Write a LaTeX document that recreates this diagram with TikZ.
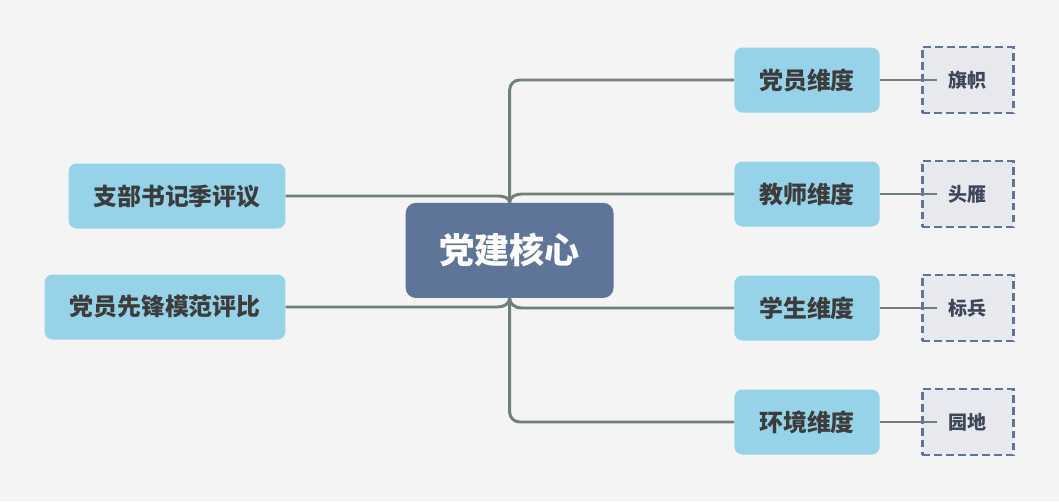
\documentclass[tikz,border=0pt]{standalone}
\usepackage{fontspec}
\setmainfont{Noto Sans CJK SC}
\usetikzlibrary{positioning}

\definecolor{bgcol}{HTML}{F4F4F4}
\definecolor{corecol}{HTML}{5F7499}
\definecolor{dimcol}{HTML}{97D3E8}
\definecolor{txtcol}{HTML}{3C3C3C}
\definecolor{tagfill}{HTML}{E8E9EE}
\definecolor{tagtxt}{HTML}{3D4759}
\definecolor{linecol}{HTML}{6F7F7B}

\begin{document}
\begin{tikzpicture}[
    core/.style={rectangle, rounded corners=0.25cm, fill=corecol, text=white, inner xsep=0.84cm, minimum height=2.375cm, font=\fontsize{25}{30}\selectfont\bfseries},
    dim/.style={rectangle, rounded corners=0.2cm, fill=dimcol, text=txtcol, inner xsep=0.62cm, minimum height=1.625cm, font=\fontsize{17}{20}\selectfont\bfseries},
    tag/.style={rectangle, draw=corecol, line width=2pt, dash pattern=on 5.5pt off 3pt, fill=tagfill, text=tagtxt, minimum width=2.275cm, minimum height=1.65cm, font=\fontsize{13.5}{16}\selectfont\bfseries},
    link/.style={draw=linecol, line width=2.1pt, rounded corners=0.25cm}
]
    \fill[bgcol] (0,0) rectangle (26.475,-12.525);
    \useasboundingbox (0,0) rectangle (26.475,-12.525);

    \node[core] (core) at (12.74,-6.26) {党建核心};

    \node[dim] (zbsj) at (4.425,-4.9) {支部书记季评议};
    \node[dim] (xfmf) at (4.125,-7.675) {党员先锋模范评比};

    \node[dim, minimum width=3.6cm] (dywd) at (20.175,-2.0) {党员维度};
    \node[dim, minimum width=3.6cm] (jswd) at (20.175,-4.85) {教师维度};
    \node[dim, minimum width=3.6cm] (xswd) at (20.175,-7.7) {学生维度};
    \node[dim, minimum width=3.6cm] (hjwd) at (20.175,-10.55) {环境维度};

    \node[tag] (qizhi) at (24.19,-2.0) {旗帜};
    \node[tag] (touyan) at (24.19,-4.85) {头雁};
    \node[tag] (biaobing) at (24.19,-7.7) {标兵};
    \node[tag] (yuandi) at (24.19,-10.55) {园地};

    % branches above the core
    \draw[link] (core.north) |- (dywd.west);
    \draw[link, rounded corners=0pt] (core.north) to[out=90, in=180] ([xshift=0.3cm]core.north |- jswd.west) -- (jswd.west);
    \draw[link, rounded corners=0pt] (zbsj.east) -- ([xshift=-0.3cm]core.north |- zbsj.east) to[out=0, in=90] (core.north);

    % branches below the core
    \draw[link, rounded corners=0pt] (core.south) to[out=-90, in=180] ([xshift=0.3cm]core.south |- xswd.west) -- (xswd.west);
    \draw[link, rounded corners=0pt] (xfmf.east) -- ([xshift=-0.3cm]core.south |- xfmf.east) to[out=0, in=-90] (core.south);
    \draw[link] (core.south) |- (hjwd.west);

    % tags
    \draw[link] (dywd.east) -- ([xshift=0.4cm]qizhi.west);
    \draw[link] (jswd.east) -- ([xshift=0.4cm]touyan.west);
    \draw[link] (xswd.east) -- ([xshift=0.4cm]biaobing.west);
    \draw[link] (hjwd.east) -- ([xshift=0.4cm]yuandi.west);
\end{tikzpicture}
\end{document}
